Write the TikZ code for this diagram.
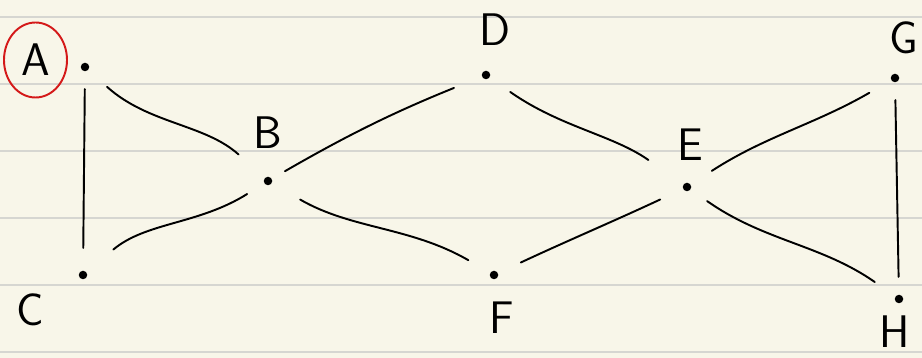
\documentclass[tikz,border=0pt]{standalone}
\usepackage{tikz}
\usetikzlibrary{shapes.geometric}
\definecolor{notepaper}{rgb}{0.973,0.965,0.914}
\definecolor{ruleline}{rgb}{0.84,0.84,0.82}
\definecolor{markred}{rgb}{0.83,0.10,0.10}

\begin{document}
\begin{tikzpicture}[
  every node/.style={font=\sffamily\fontsize{26}{30}\selectfont},
  vertex/.style={circle, fill=black, minimum size=1.7mm, inner sep=0pt},
  letter/.style={inner sep=0pt},
  ringed/.style={ellipse, draw=markred, line width=1.1pt, minimum width=12.6mm, minimum height=15mm, inner sep=0pt},
  edge/.style={line width=1.1pt, line cap=round, shorten <=5mm, shorten >=5mm},
  rule/.style={ruleline, line width=0.8pt},
]

% ---- notebook paper ----
\fill[notepaper] (0,0) rectangle (18.44,7.16);
\useasboundingbox (0,0) rectangle (18.44,7.16);
\foreach \y in {6.82,5.48,4.14,2.80,1.46,0.12}
  \draw[rule] (0,\y) -- (18.44,\y);

% ---- vertices ----
\node[vertex] (A) at (1.70, 5.82) {};
\node[vertex] (B) at (5.36, 3.54) {};
\node[vertex] (C) at (1.66, 1.66) {};
\node[vertex] (D) at (9.72, 5.66) {};
\node[vertex] (E) at (13.74, 3.42) {};
\node[vertex] (F) at (9.88, 1.66) {};
\node[vertex] (G) at (17.90, 5.60) {};
\node[vertex] (H) at (17.98, 1.18) {};

% ---- letters beside the vertices ----
\node[ringed] (lA) at (0.71, 5.96) {A};
\node[letter] (lB) at (5.36, 4.50) {B};
\node[letter] (lC) at (0.60, 0.96) {C};
\node[letter] (lD) at (9.90, 6.56) {D};
\node[letter] (lE) at (13.80, 4.26) {E};
\node[letter] (lF) at (10.04, 0.80) {F};
\node[letter] (lG) at (18.08, 6.40) {G};
\node[letter] (lH) at (17.90, 0.52) {H};

% ---- edges ----
\draw[edge, shorten <=3.5mm, shorten >=4.5mm] (A) -- (C);
\draw[edge, shorten >=7mm] (A) to[out=-42, in=138] (B);
\draw[edge, shorten <=7mm, shorten >=4mm] (C) to[out=40, in=-148] (B);
\draw[edge, shorten <=3mm, shorten >=6mm] (B) to[out=30, in=-158] (D);
\draw[edge, shorten <=6.5mm] (B) to[out=-30, in=150] (F);
\draw[edge, shorten >=8.5mm] (D) to[out=-35, in=145] (E);
\draw[edge] (F) to[out=25, in=-155] (E);
\draw[edge] (E) to[out=33, in=-150] (G);
\draw[edge, shorten <=4mm] (E) to[out=-35, in=145] (H);
\draw[edge, shorten <=3.5mm, shorten >=3.5mm] (G) -- (H);

\end{tikzpicture}
\end{document}
